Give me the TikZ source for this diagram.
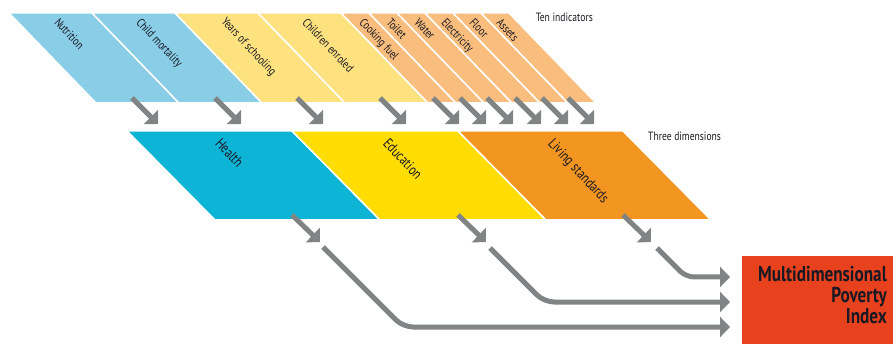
\documentclass[tikz,border=0pt]{standalone}
\usepackage{fontspec}
\setmainfont{PT Sans}[FakeStretch=0.8]
\usetikzlibrary{arrows.meta}
\definecolor{Bl}{RGB}{137, 205, 230}
\definecolor{Yl}{RGB}{254, 226, 128}
\definecolor{Ol}{RGB}{249, 190, 125}
\definecolor{B}{RGB}{13, 180, 214}
\definecolor{Y}{RGB}{255, 221, 0}
\definecolor{O}{RGB}{243, 150, 33}
\definecolor{R}{RGB}{232, 65, 30}
\definecolor{G}{RGB}{128, 132, 132}
\definecolor{T}{RGB}{25, 25, 35}
\tikzset{
  caja/.style={draw=white, line width=1.5pt},
  flecha/.style={draw=G, line width=5pt, -{Triangle[length=10pt,width=20pt]}},
  indic/.style={rotate=-47, anchor=north west, inner sep=0pt, text=T,
                font=\fontsize{12}{14}\selectfont},
  dimen/.style={rotate=-47, anchor=north west, inner sep=0pt, text=T,
                font=\fontsize{14.5}{16}\selectfont},
  titulo/.style={inner sep=0pt, text=T, font=\fontsize{12}{14}\selectfont}
}

\begin{document}
\begin{tikzpicture}[x=1pt, y=-1pt]
  \useasboundingbox (0,0) rectangle (893,344);

  % Indicadores (fila de arriba)
  \fill[Bl, caja] (9,13) -- (92,13) -- (179,103) -- (96,103) -- cycle;
  \fill[Bl, caja] (92,13) -- (175,13) -- (262,103) -- (179,103) -- cycle;
  \fill[Yl, caja] (175,13) -- (258,13) -- (345,103) -- (262,103) -- cycle;
  \fill[Yl, caja] (258,13) -- (341,13) -- (428,103) -- (345,103) -- cycle;
  \foreach \x in {341,369,397,425,453,481}
    \fill[Ol, caja] (\x,13) -- (\x+28,13) -- (\x+115,103) -- (\x+87,103) -- cycle;

  \node[indic] (nut) at (60,17) {Nutrition};
  \node[indic] (mort) at (142,17) {Child mortality};
  \node[indic] (school) at (227,16) {Years of schooling};
  \node[indic] (enrol) at (308,17) {Children enroled};
  \node[indic] (fuel) at (365,17) {Cooking fuel};
  \node[indic] (toil) at (392,17) {Toilet};
  \node[indic] (wat) at (420,17) {Water};
  \node[indic] (elec) at (447,17) {Electricity};
  \node[indic] (floor) at (475,17) {Floor};
  \node[indic] (asset) at (502,17) {Assets};
  \node[titulo, anchor=base east] (ten) at (593,22) {Ten indicators};

  % Dimensiones (fila del medio)
  \fill[B, caja] (127,131) -- (292,131) -- (380,220) -- (215,220) -- cycle;
  \fill[Y, caja] (292,131) -- (458,131) -- (546,220) -- (380,220) -- cycle;
  \fill[O, caja] (458,131) -- (623,131) -- (711,220) -- (546,220) -- cycle;

  \node[dimen] (health) at (222,137) {Health};
  \node[dimen] (educ) at (390,137) {Education};
  \node[dimen] (living) at (555,137) {Living standards};
  \node[titulo, anchor=base west] (three) at (648,141) {Three dimensions};

  % Flechas de indicadores a dimensiones
  \foreach \x [count=\i] in {132,215,297,380,433,460,487,515,542,568} {
    \coordinate (ia\i) at (\x,98);
    \coordinate (ib\i) at (\x+26,124);
    \draw[flecha] (ia\i) -- (ib\i);
  }

  % Flechas de dimensiones
  \foreach \x [count=\i] in {292,458,623} {
    \coordinate (da\i) at (\x,215);
    \coordinate (db\i) at (\x+28,242);
    \draw[flecha] (da\i) -- (db\i);
  }

  % Indice
  \node[fill=R, anchor=north west, minimum width=160pt, minimum height=95pt,
        inner sep=0pt] (mpi) at (742,256) {};
  \node[anchor=north east, align=right, inner sep=0pt, text=T,
        font=\fontsize{21.5}{21}\selectfont\bfseries] (mpitxt) at (887,266)
        {Multidimensional\\Poverty\\Index};

  % Lineas hacia el indice
  \coordinate (h1) at (323,247);
  \coordinate (h2) at (403,327);
  \coordinate (mpiH) at (730,327);
  \coordinate (e1) at (490,248);
  \coordinate (e2) at (544,302);
  \coordinate (mpiE) at (730,302);
  \coordinate (l1) at (657,248);
  \coordinate (l2) at (686,277);
  \coordinate (mpiL) at (730,277);
  \draw[flecha, rounded corners=10pt] (h1) -- (h2) -- (mpiH);
  \draw[flecha, rounded corners=10pt] (e1) -- (e2) -- (mpiE);
  \draw[flecha, rounded corners=8pt] (l1) -- (l2) -- (mpiL);
\end{tikzpicture}
\end{document}
